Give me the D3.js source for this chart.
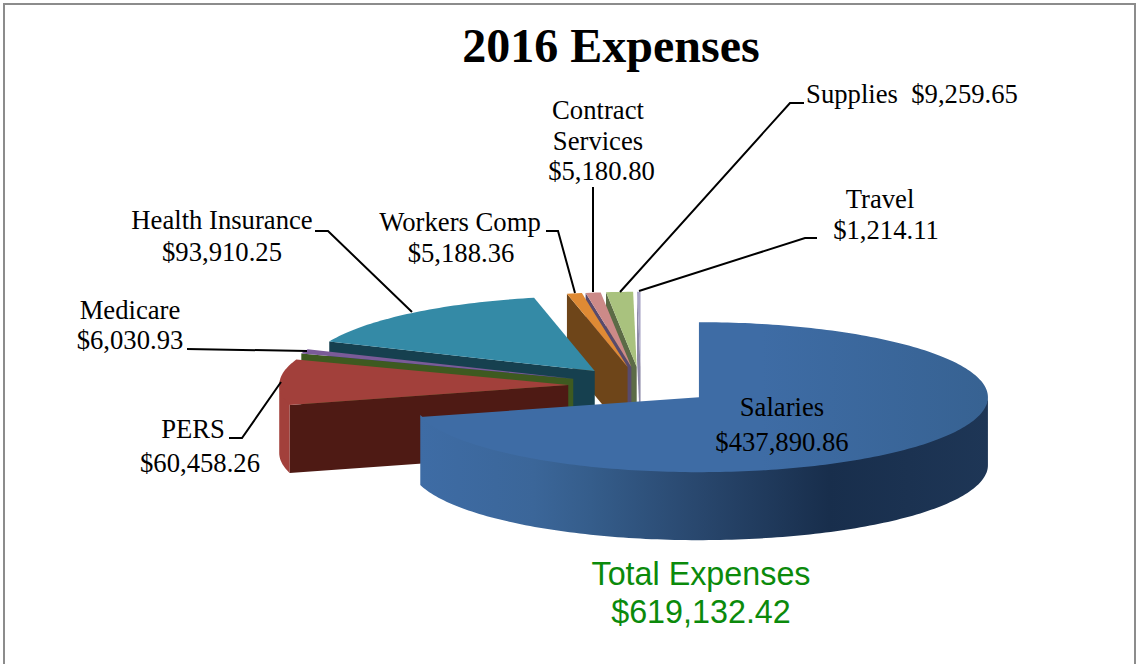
<!DOCTYPE html>
<html><head><meta charset="utf-8">
<script src="https://cdn.jsdelivr.net/npm/d3@7/dist/d3.min.js"></script>
<style>html,body{margin:0;padding:0;background:#fff;overflow:hidden}svg{display:block}</style>
</head><body><svg id="c" width="1139" height="664"></svg>
<script>
const categories = ["Salaries","PERS","Medicare","Health Insurance","Workers Comp","Contract Services","Supplies","Travel"];
const values = [437890.86,60458.26,6030.93,93910.25,5188.36,5180.80,9259.65,1214.11];
const valueLabels = ["$437,890.86","$60,458.26","$6,030.93","$93,910.25","$5,188.36","$5,180.80","$9,259.65","$1,214.11"];
const topColors = ["url(#salTop)","#a2403b","#7a5b98","#348aa6","#df8a34","#cc8a88","#a9c27e","#aaa6c6"];
const wallColors = ["url(#salWall)","#4e1a14","#3e5a20","#16404f","#6e4519","#584a6c","#5c6b46","#8e8aa8"];
const rimColors = ["url(#salWall)","#a2403b"];
const titleText = "2016 Expenses";
const totalLines = ["Total Expenses","$619,132.42"];

// layout: projected pie geometry
const cx=641, cy=385.7, rx=289, ry=75, depth=68, explode=0.252;
// label layout: text lines [text, x, baseline y] and leader bend points
const labelLayout = [
 {lines:[["Salaries",782,416],["$437,890.86",782,451]], leader:null},
 {lines:[["PERS",193,438],["$60,458.26",200,472]], leader:[[281,382],[242,438],[229,438]]},
 {lines:[["Medicare",130,319],["$6,030.93",130,349]], leader:[[307,351],[187,349]]},
 {lines:[["Health Insurance",222,229],["$93,910.25",222,261]], leader:[[412,312],[328,231],[315,231]]},
 {lines:[["Workers Comp",460,231],["$5,188.36",461,262]], leader:[[575,293],[558,231],[546,231]]},
 {lines:[["Contract",598,119],["Services",598,150],["$5,180.80",601.5,180]], leader:[[593,292],[593,187]]},
 {lines:[["Supplies  $9,259.65",912,103]], leader:[[620,292],[790,103],[804,103]]},
 {lines:[["Travel",880,208],["$1,214.11",886,239]], leader:[[639,291],[805,238],[817,238]]}
];

const svg=d3.select("#c");
const defs=svg.append("defs");
function grad(id,x1,x2,stops){
  const g=defs.append("linearGradient").attr("id",id).attr("gradientUnits","userSpaceOnUse")
    .attr("x1",x1).attr("x2",x2).attr("y1",0).attr("y2",0);
  stops.forEach(s=>g.append("stop").attr("offset",s[0]).attr("stop-color",s[1]));
}
grad("salTop",420,988,[[0,"#3e6ca5"],[0.6,"#3e6ca5"],[1,"#376292"]]);
grad("salWall",420,988,[[0,"#3e6ca5"],[0.2,"#3b6699"],[0.3,"#355d8b"],[0.5,"#28466c"],[0.72,"#182e4c"],[1,"#1e3656"]]);

svg.append("rect").attr("x",4).attr("y",4).attr("width",1131).attr("height",700)
  .attr("fill","#fff").attr("stroke","#8c8c8c").attr("stroke-width",2);

const arcs=d3.pie().sort(null).value(d=>d)(values);
const line=d3.line();
const X=d3.scaleLinear().domain([-1,1]).range([-rx,rx]);
const Y=d3.scaleLinear().domain([-1,1]).range([ry,-ry]);
function apex(a){const m=(a.startAngle+a.endAngle)/2;
  return [cx+explode*X(Math.sin(m)), cy+explode*Y(Math.cos(m))];}
function rimPt(c,t){return [c[0]+X(Math.sin(t)), c[1]+Y(Math.cos(t))];}
function sampled(t0,t1){const n=Math.max(2,Math.ceil(Math.abs(t1-t0)/0.02));
  return d3.range(n+1).map(i=>t0+(t1-t0)*i/n);}
const down=p=>[p[0],p[1]+depth];

const gp=svg.append("g");
// back to front
d3.range(arcs.length-1,-1,-1).forEach(i=>{
  const a=arcs[i], c=apex(a);
  const g=gp.append("g").attr("data-cat",categories[i]);
  // flat radial wall on the slice's leading (start) edge for all but Salaries
  if(i>0){
    const p=rimPt(c,a.startAngle);
    g.append("path").attr("d",line([c,p,down(p),down(c)])+"Z").attr("fill",wallColors[i]);
  }
  // outer rim, only where it faces the viewer; its upper edge tucks under the top face to avoid a seam
  const lo=Math.max(a.startAngle,Math.PI/2), hi=Math.min(a.endAngle,3*Math.PI/2);
  if(hi>lo){
    const pts=sampled(lo,hi).map(t=>rimPt(c,t));
    const upper=pts.map(p=>[p[0],p[1]-2]);
    g.append("path").attr("d",line(upper.concat(pts.slice().reverse().map(down)))+"Z")
      .attr("fill",rimColors[i]||wallColors[i]);
  }
  // top
  const pts=[c].concat(sampled(a.startAngle,a.endAngle).map(t=>rimPt(c,t)));
  g.append("path").attr("d",line(pts)+"Z").attr("fill",topColors[i]);
});

// leaders
labelLayout.forEach(l=>{ if(l.leader) svg.append("path").attr("d",line(l.leader))
  .attr("fill","none").attr("stroke","#000").attr("stroke-width",2);});

// labels
const serif='"Liberation Serif","Times New Roman",serif';
labelLayout.forEach((l,i)=>{
  l.lines.forEach(t=>svg.append("text").attr("x",t[1]).attr("y",t[2]).attr("text-anchor","middle")
    .attr("font-family",serif).attr("font-size",26.67).attr("fill","#000").attr("xml:space","preserve")
    .style("white-space","pre").text(t[0]));
});
svg.append("text").attr("x",611).attr("y",62).attr("text-anchor","middle")
  .attr("font-family",serif).attr("font-weight","bold").attr("font-size",48).attr("fill","#000").text(titleText);
totalLines.forEach((t,i)=>svg.append("text").attr("x",701).attr("y",[585,623][i]).attr("text-anchor","middle")
  .attr("font-family",'"Liberation Sans",Arial,sans-serif').attr("font-size",32.3).attr("fill","#0b8a0b").text(t));
</script></body></html>
